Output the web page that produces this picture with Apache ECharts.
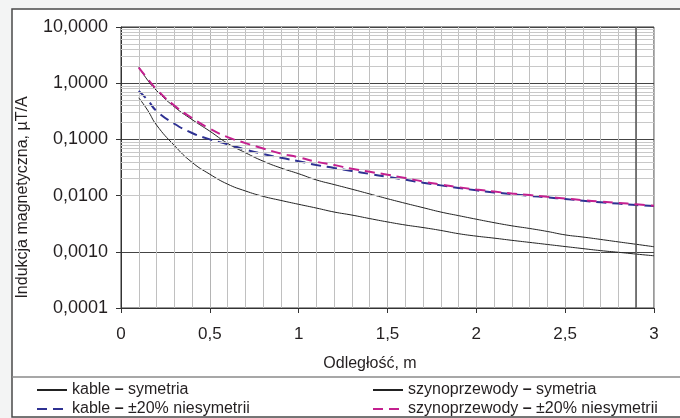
<!DOCTYPE html>
<html>
<head>
<meta charset="utf-8">
<script src="https://cdn.jsdelivr.net/npm/echarts@6/dist/echarts.min.js"></script>
<style>
  html, body { margin: 0; padding: 0; background: #f3f4f4; }
  #chart { width: 680px; height: 418px; }
</style>
</head>
<body>
<div id="chart"></div>
<script>
// odległość, m
var distance = [0.1, 0.15, 0.2, 0.3, 0.4, 0.5, 0.6, 0.7, 0.8, 0.9, 1.0, 1.1, 1.2, 1.3, 1.4, 1.5,
  1.6, 1.7, 1.8, 1.9, 2.0, 2.1, 2.2, 2.3, 2.4, 2.5, 2.6, 2.7, 2.8, 2.9, 3.0];

var kableSym = [0.55, 0.33, 0.18, 0.078, 0.039, 0.024, 0.016, 0.0121, 0.0097, 0.0082, 0.0070,
  0.0060, 0.0051, 0.0045, 0.0039, 0.0034, 0.0030, 0.0027, 0.0024, 0.0021, 0.0019, 0.00175,
  0.0016, 0.00147, 0.00135, 0.00124, 0.00114, 0.00105, 0.00098, 0.00091, 0.00085];

var szynoSym = [1.95, 1.13, 0.74, 0.38, 0.225, 0.14, 0.085, 0.058, 0.041, 0.031, 0.0245,
  0.019, 0.0157, 0.013, 0.0107, 0.0088, 0.0073, 0.0061, 0.0051, 0.0044, 0.0038, 0.0033,
  0.0029, 0.0026, 0.0023, 0.0020, 0.00183, 0.00166, 0.0015, 0.00136, 0.00123];

var kableNiesym = [0.73, 0.50, 0.32, 0.19, 0.13, 0.10, 0.082, 0.066, 0.055, 0.047, 0.041,
  0.035, 0.031, 0.0275, 0.0243, 0.0215, 0.0192, 0.017, 0.0152, 0.0137, 0.0124, 0.0114,
  0.0106, 0.0099, 0.0093, 0.0087, 0.0081, 0.0076, 0.0072, 0.0068, 0.0065];

var szynoNiesym = [1.9, 1.2, 0.78, 0.40, 0.24, 0.155, 0.11, 0.086, 0.069, 0.056, 0.048,
  0.040, 0.035, 0.030, 0.0265, 0.0235, 0.0205, 0.0178, 0.0158, 0.0141, 0.0128, 0.0118,
  0.0109, 0.0102, 0.0095, 0.0089, 0.0083, 0.0078, 0.0074, 0.0070, 0.0066];

var names = ['kable – symetria', 'kable – ±20% niesymetrii',
  'szynoprzewody – symetria', 'szynoprzewody – ±20% niesymetrii'];

// pomocnicze linie siatki (2..9 w każdej dekadzie)
var decades = [0.0001, 0.001, 0.01, 0.1, 1];
var steps = [2, 3, 4, 5, 6, 7, 8, 9];
var minorY = [];
decades.forEach(function (d) {
  steps.forEach(function (s) { minorY.push({ yAxis: +(d * s).toPrecision(3) }); });
});
var markX = 2.9;

function pairs(ys) {
  return distance.map(function (x, i) { return [x, ys[i]]; });
}

var font = 'Liberation Sans, Arial, sans-serif';
var legendText = {
  fontFamily: font, fontSize: 16, color: '#231f20',
  rich: { d: { fontFamily: font, fontSize: 16, fontWeight: 'bold', color: '#231f20' } }
};

// jedna legenda na pozycję (dwie kolumny, dwa wiersze)
var legendPos = [[36, 382], [36, 401], [372, 382], [372, 401]];
var legends = names.map(function (n, i) {
  return {
    left: legendPos[i][0], top: legendPos[i][1], itemWidth: 30, itemHeight: 14, itemGap: 0,
    padding: 0, data: [n], textStyle: legendText, itemStyle: { opacity: 0 },
    formatter: function (name) { return name.replace('–', '{d|–}'); }
  };
});

var option = {
  animation: false,
  backgroundColor: '#f3f4f4',
  graphic: [
    {
      type: 'rect', z: -10,
      shape: { x: 12, y: 9, width: 680, height: 408 },
      style: { fill: '#fff', stroke: '#4a4a4a', lineWidth: 1.5 }
    },
    {
      type: 'line', z: -9,
      shape: { x1: 12, y1: 377, x2: 680, y2: 377 },
      style: { stroke: '#8a8a8a', lineWidth: 1.5 }
    }
  ],
  grid: {
    left: 121, right: 26, top: 27, bottom: 110,
    show: true, borderColor: '#333', borderWidth: 1, backgroundColor: 'transparent'
  },
  legend: legends,
  xAxis: {
    type: 'value', min: 0, max: 3, interval: 0.5,
    name: 'Odległość, m', nameLocation: 'middle', nameGap: 48,
    nameTextStyle: { fontFamily: font, fontSize: 16, color: '#231f20', padding: [0, 35, 0, 0] },
    axisLine: { lineStyle: { color: '#333' } },
    axisTick: { length: 5, lineStyle: { color: '#333' } },
    axisLabel: {
      fontFamily: font, fontSize: 17, color: '#231f20', margin: 18,
      formatter: function (v) { return String(v).replace('.', ','); }
    },
    splitLine: { lineStyle: { color: '#b4b4b4' } },
    minorTick: { show: false, splitNumber: 5 },
    minorSplitLine: { show: true, lineStyle: { color: '#c0c0c0' } }
  },
  yAxis: {
    type: 'log', logBase: 10, min: 0.0001, max: 10,
    name: 'Indukcja magnetyczna, µT/A', nameLocation: 'middle', nameGap: 90,
    nameTextStyle: { fontFamily: font, fontSize: 16, color: '#231f20', padding: [0, 60, 0, 0] },
    axisLine: { show: true, lineStyle: { color: '#333' } },
    axisTick: { show: true, length: 5, lineStyle: { color: '#333' } },
    axisLabel: {
      fontFamily: font, fontSize: 18, color: '#231f20', margin: 13,
      formatter: function (v) { return v.toFixed(4).replace('.', ','); }
    },
    splitLine: { lineStyle: { color: '#444' } }
  },
  series: [
    {
      type: 'line', name: 'siatka', data: [], silent: true, z: 1,
      markLine: {
        silent: true, symbol: 'none', label: { show: false },
        lineStyle: { type: 'solid', color: '#c8c8c8', width: 1 },
        data: minorY.concat([{ xAxis: markX, lineStyle: { color: '#555', width: 1.5 } }])
      }
    },
    {
      type: 'line', name: names[0], data: pairs(kableSym), smooth: true, symbol: 'none', z: 3,
      lineStyle: { color: '#222', width: 1 }, itemStyle: { color: '#555' }
    },
    {
      type: 'line', name: names[1], data: pairs(kableNiesym), smooth: true, symbol: 'none', z: 4,
      lineStyle: { color: '#2e3192', width: 2, type: [10, 6] }, itemStyle: { color: '#2e3192' }
    },
    {
      type: 'line', name: names[2], data: pairs(szynoSym), smooth: true, symbol: 'none', z: 3,
      lineStyle: { color: '#222', width: 1 }, itemStyle: { color: '#555' }
    },
    {
      type: 'line', name: names[3], data: pairs(szynoNiesym), smooth: true, symbol: 'none', z: 5,
      lineStyle: { color: '#c4208f', width: 2, type: [10, 6] }, itemStyle: { color: '#c4208f' }
    }
  ]
};

var chart = echarts.init(document.getElementById('chart'));
chart.setOption(option);
</script>
</body>
</html>
